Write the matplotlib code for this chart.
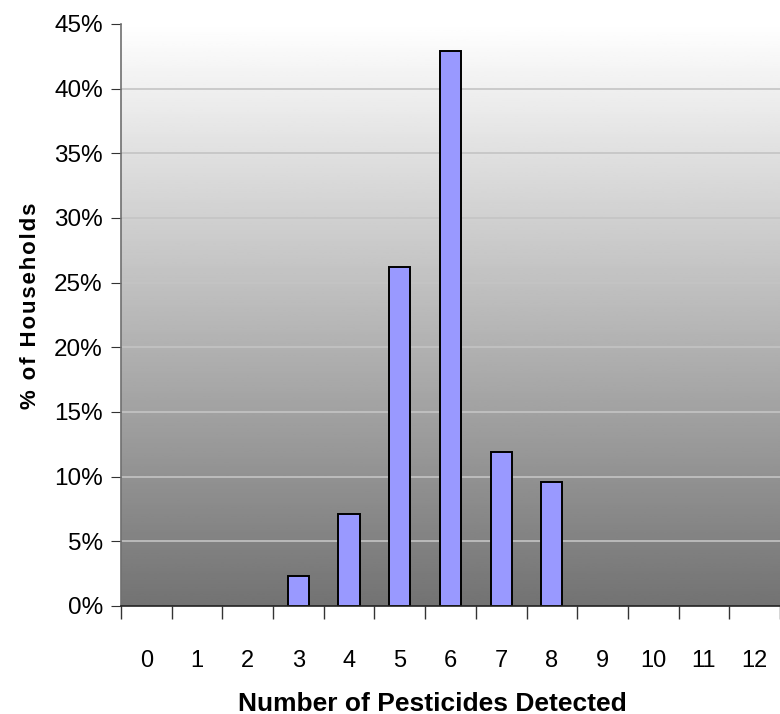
import numpy as np
import matplotlib.pyplot as plt
from matplotlib.ticker import FixedLocator, PercentFormatter

plt.rcParams['font.family'] = ['Liberation Sans', 'DejaVu Sans']

# pesticides detected per household
n_pesticides = list(range(13))
pct_households = [0, 0, 0, 2.3, 7.1, 26.2, 42.9, 11.9, 9.6, 0, 0, 0, 0]
y_ticks = [0, 5, 10, 15, 20, 25, 30, 35, 40, 45]

fig = plt.figure(figsize=(7.8, 7.14), dpi=100)
ax = fig.add_axes([0.155, 0.1513, 0.845, 0.8151])

# gray gradient background (white top -> dark gray bottom)
grad = np.linspace(1.0, 0.45, 256).reshape(-1, 1)
ax.imshow(grad, cmap='gray', vmin=0, vmax=1, aspect='auto',
          extent=[-0.5, 12.5, 0, 45], origin='upper', zorder=0)

for yv in y_ticks[1:-1]:
    ax.axhline(yv, color='#c4c4c4', lw=1.2, zorder=1)

vals = [v if v > 0 else np.nan for v in pct_households]
ax.bar(n_pesticides, vals, width=0.42, color='#9999ff',
       edgecolor='black', linewidth=1.4, zorder=2)

ax.set_xlim(-0.5, 12.5)
ax.set_ylim(0, 45)
ax.set_yticks(y_ticks)
ax.yaxis.set_major_formatter(PercentFormatter(decimals=0))
ax.set_xticks(n_pesticides)
ax.xaxis.set_minor_locator(FixedLocator(np.arange(-0.5, 13, 1)))
ax.tick_params(axis='x', which='major', length=0, pad=32, labelsize=17)
ax.tick_params(axis='x', which='minor', length=9, color='#333333', width=1)
ax.tick_params(axis='y', length=7, color='#333333', labelsize=17.5, pad=6)

for s in ['top', 'right']:
    ax.spines[s].set_visible(False)
ax.spines['left'].set_color('#707070')
ax.spines['left'].set_linewidth(1.2)
ax.spines['bottom'].set_color('#222222')
ax.spines['bottom'].set_linewidth(1.2)

ax.set_xlabel('Number of Pesticides Detected', fontsize=19, fontweight='bold')
ax.xaxis.set_label_coords(0.472, -0.147)
ax.set_ylabel('\u200a'.join('% of Households'), fontsize=16, fontweight='bold')
ax.yaxis.set_label_coords(-0.121, 0.515)

fig.savefig('out.png', dpi=100)
